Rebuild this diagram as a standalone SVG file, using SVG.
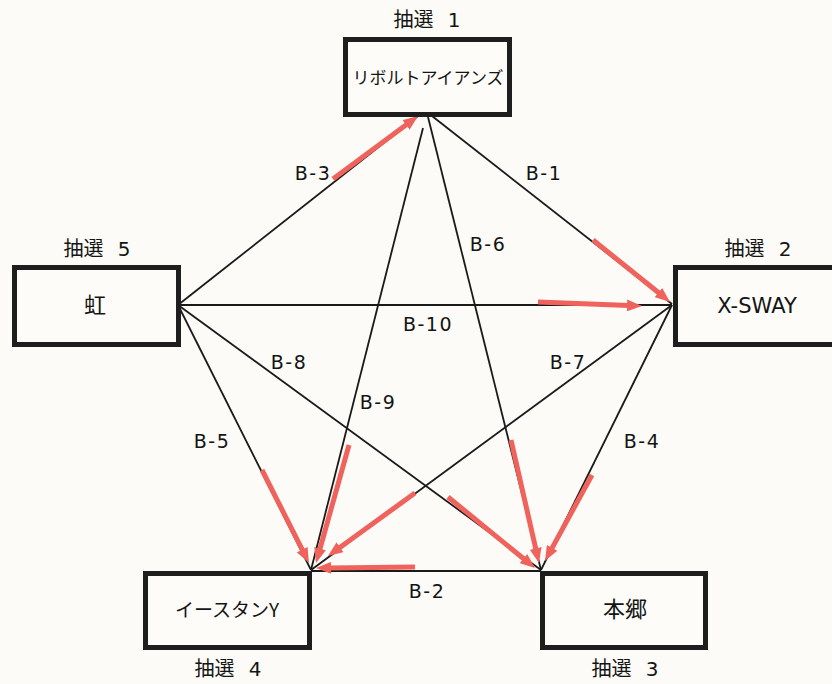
<svg xmlns="http://www.w3.org/2000/svg" width="832" height="684" viewBox="0 0 832 684">
<style>
.box{fill:#fdfcf8;stroke:#1e1e1e;stroke-width:5}
.jp{font-family:"Noto Sans CJK JP",sans-serif;fill:#141414;text-anchor:middle}
.lot{font-family:"DejaVu Sans","Noto Sans CJK JP",sans-serif;font-size:20px;fill:#141414;text-anchor:middle;word-spacing:8px}
.lat{font-family:"DejaVu Sans",sans-serif;fill:#141414;text-anchor:middle}
.ln{stroke:#1a1a1a;stroke-width:1.8;fill:none}
.red{stroke:#f0625c;stroke-width:5;fill:none;marker-end:url(#ah)}
.lbl{font-family:"DejaVu Sans",sans-serif;font-size:19px;fill:#141414;text-anchor:middle;letter-spacing:1.5px}
</style>
<defs>
<marker id="ah" viewBox="0 0 15 12" refX="2" refY="6" markerWidth="15" markerHeight="12" markerUnits="userSpaceOnUse" orient="auto">
<path d="M0,0 L15,6 L0,12 z" fill="#f0625c"/>
</marker>
</defs>
<rect width="832" height="684" fill="#fcfbf7"/>
<g id="connectors">
<line class="ln" x1="178" y1="305" x2="418" y2="116"/>
<line class="ln" x1="432" y1="116" x2="672" y2="304"/>
<line class="ln" x1="178" y1="305" x2="672" y2="305"/>
<line class="ln" x1="428" y1="117" x2="541" y2="570"/>
<line class="ln" x1="423" y1="128" x2="311" y2="570"/>
<line class="ln" x1="672" y1="305" x2="311" y2="570"/>
<line class="ln" x1="672" y1="305" x2="541" y2="570"/>
<line class="ln" x1="178" y1="305" x2="541" y2="570"/>
<line class="ln" x1="178" y1="305" x2="311" y2="570"/>
<line class="ln" x1="311" y1="571" x2="541" y2="571" stroke-width="2.5"/>
<line class="red" x1="333" y1="179" x2="407.6" y2="123.7"/>
<line class="red" x1="593" y1="240" x2="659.9" y2="293.8"/>
<line class="red" x1="538" y1="302" x2="629" y2="305.5"/>
<line class="red" x1="511" y1="440" x2="536.1" y2="550.3"/>
<line class="red" x1="592" y1="475" x2="551.2" y2="549.6"/>
<line class="red" x1="349" y1="445" x2="319.5" y2="550.5"/>
<line class="red" x1="262" y1="470" x2="303.1" y2="551.4"/>
<line class="red" x1="415" y1="493" x2="338.5" y2="548.4"/>
<line class="red" x1="415" y1="567" x2="329" y2="567.9"/>
<line class="red" x1="448" y1="497" x2="524.9" y2="559.8"/>
<text class="lbl" x="313" y="180">B-3</text>
<text class="lbl" x="544" y="180">B-1</text>
<text class="lbl" x="488" y="251">B-6</text>
<text class="lbl" x="428" y="331">B-10</text>
<text class="lbl" x="289" y="369">B-8</text>
<text class="lbl" x="568" y="369">B-7</text>
<text class="lbl" x="378" y="409">B-9</text>
<text class="lbl" x="212" y="448">B-5</text>
<text class="lbl" x="642" y="448">B-4</text>
<text class="lbl" x="427" y="598">B-2</text>
</g>
<g id="node1">
<rect class="box" x="345.5" y="39.5" width="164" height="75"/>
<text class="jp" x="428" y="84" font-size="17">リボルトアイアンズ</text>
<text class="lot" x="427" y="27">抽選 1</text>
</g>
<g id="node2">
<rect class="box" x="675.5" y="267.5" width="170" height="77"/>
<text class="lat" x="757" y="313" font-size="21">X-SWAY</text>
<text class="lot" x="758" y="256">抽選 2</text>
</g>
<g id="node3">
<rect class="box" x="542.5" y="573.5" width="163" height="74"/>
<text class="jp" x="625" y="617" font-size="22">本郷</text>
<text class="lot" x="625" y="676">抽選 3</text>
</g>
<g id="node4">
<rect class="box" x="145.5" y="573.5" width="164" height="74"/>
<text class="jp" x="227" y="617" font-size="19">イースタンY</text>
<text class="lot" x="228" y="676">抽選 4</text>
</g>
<g id="node5">
<rect class="box" x="14.5" y="267.5" width="164" height="77"/>
<text class="jp" x="95" y="313" font-size="22">虹</text>
<text class="lot" x="97" y="256">抽選 5</text>
</g>
</svg>
